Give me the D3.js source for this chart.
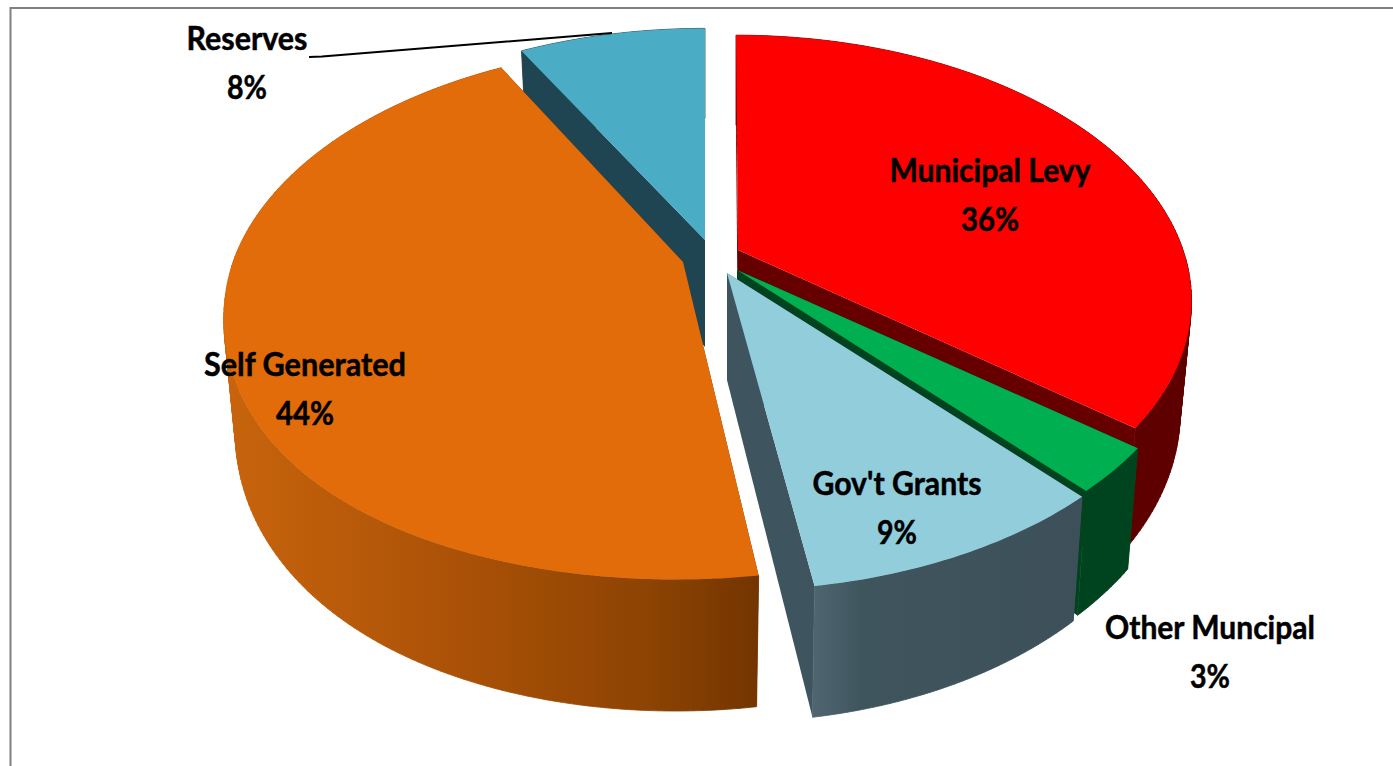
<!DOCTYPE html>
<html>
<head>
<meta charset="utf-8">
<script src="https://d3js.org/d3.v7.min.js"></script>
<style>
  html, body { margin: 0; background: #fff; overflow: hidden; }
  text { font-family: Lato, "Open Sans", sans-serif; font-weight: 700; fill: #000; stroke: #000; stroke-width: 0.5; text-anchor: middle; }
</style>
</head>
<body>
<svg id="chart" width="1393" height="766"></svg>
<script>
// values
const categories = ["Municipal Levy", "Other Muncipal", "Gov't Grants", "Self Generated", "Reserves"];
const shares = [35.6, 2.8, 9.2, 44.4, 8.0];
const percentLabels = ["36%", "3%", "9%", "44%", "8%"];

// look of each slice: top face, radial wall, outer wall gradient stops
const topColors = ["#ff0000", "#00b050", "#92cddc", "#e26b0a", "#4bacc6"];
const wallColors = ["#660000", "#00431e", "#3e5560", "#733500", "#204552"];
const outerStops = [
  [[0, "#5f0000"], [1, "#5f0000"]],
  [[0, "#00441f"], [1, "#00441f"]],
  [[0, "#4f6671"], [0.18, "#3f555e"], [1, "#3d5059"]],
  [[0, "#c8640d"], [0.5, "#a64f06"], [0.8, "#8c4303"], [1, "#733500"]],
  [[0, "#204552"], [1, "#204552"]]
];

// where the apex of each exploded slice lands on screen
const apexes = [[738, 250], [737, 270], [727, 273], [683, 262], [705, 240]];
// exploded slices sit at slightly different spots in the perspective
const fitX = [0.989, 1, 1.012, 1, 0.985];
const fitY = [1, 1, 1.012, 1.012, 0.985];
const skews = [2.4, 1, 3, -6, 0];
const bulges = [0, 0, 0, 20, 0];

// label centres and fitted text widths
const labelX = [990, 1210, 897, 305, 247];
const labelY = [182, 639, 495, 376, 50];
const nameWidths = [201, 210, 169, 202, 121];
const pctWidths = [58, 40, 40, 58, 40];

const radiusX = 450, radiusY = 255; // screen scale of the unit circle
const perspective = 0.187;          // near edge gets larger
const depth = 107;                  // pie thickness at unit scale
const bottomShrink = 0.975;         // bottom face sits further from camera

const svg = d3.select("#chart");
const defs = svg.append("defs");

const scaleX = d3.scaleLinear().domain([0, 1]).range([0, radiusX]);
const scaleY = d3.scaleLinear().domain([0, 1]).range([0, radiusY]);

// project a point of slice i, radius r and angle a clockwise from the top
function project(i, r, a, isBottom) {
  const px = r * Math.sin(a), py = -r * Math.cos(a);
  const s = 1 / (1 - perspective * py);
  const shrink = isBottom ? bottomShrink : 1;
  return [
    apexes[i][0] + (scaleX(px) * fitX[i] * shrink + skews[i] * py) * s,
    apexes[i][1] + scaleY(py) * fitY[i] * s + (isBottom ? depth * s : 0) + bulges[i] * px * px * Math.max(py, 0)
  ];
}

function arcPoints(i, a0, a1, isBottom) {
  const n = Math.max(8, Math.ceil((a1 - a0) * 60));
  return d3.range(n + 1).map(k => project(i, 1, a0 + (a1 - a0) * k / n, isBottom));
}

const line = d3.line();
const closed = pts => line(pts) + "Z";

// outer wall as quads with one winding, so that the fold at the silhouette stays filled
function wallPath(topArc, bottomArc) {
  return d3.pairs(d3.range(topArc.length)).map(([a, b]) => {
    const quad = [topArc[a], topArc[b], bottomArc[b], bottomArc[a]];
    return closed(d3.polygonArea(quad) < 0 ? quad.reverse() : quad);
  }).join("");
}

// frame line, only top and left are in the picture
svg.append("path")
  .attr("d", line([[10.5, 766], [10.5, 8], [1393, 8]]))
  .attr("fill", "none")
  .attr("stroke", "#808080")
  .attr("stroke-width", 2);

const arcs = d3.pie().sort(null).value(d => d)(shares);

// back slices first, so the front ones paint over them
const drawOrder = [4, 0, 1, 2, 3];

drawOrder.forEach(i => {
  const { startAngle: a0, endAngle: a1 } = arcs[i];
  const apex = apexes[i];
  const g = svg.append("g").attr("class", "slice");

  const topArc = arcPoints(i, a0, a1, false);
  const bottomArc = arcPoints(i, a0, a1, true);
  const apexBottom = project(i, 0, 0, true);

  // radial walls
  [[topArc[0], bottomArc[0]], [topArc[topArc.length - 1], bottomArc[bottomArc.length - 1]]].forEach(([t, b]) => {
    g.append("path")
      .attr("d", closed([apex, t, b, apexBottom]))
      .attr("fill", wallColors[i]);
  });

  // outer wall
  const xs = topArc.concat(bottomArc).map(p => p[0]);
  const grad = defs.append("linearGradient")
    .attr("id", "outer" + i)
    .attr("gradientUnits", "userSpaceOnUse")
    .attr("x1", d3.min(xs)).attr("x2", d3.max(xs))
    .attr("y1", 0).attr("y2", 0);
  outerStops[i].forEach(([o, c]) => grad.append("stop").attr("offset", o).attr("stop-color", c));
  g.append("path")
    .attr("d", wallPath(topArc, bottomArc))
    .attr("fill", `url(#outer${i})`)
    .attr("stroke", `url(#outer${i})`) // hides the seam against the radial wall
    .attr("stroke-width", 0.8);

  // top face
  g.append("path")
    .attr("d", closed([apex].concat(topArc)))
    .attr("fill", topColors[i]);
});

// leader line of the Reserves label
svg.append("path")
  .attr("d", line([[309, 57], [322, 56.5], [612, 33]]))
  .attr("fill", "none")
  .attr("stroke", "#000")
  .attr("stroke-width", 2);

categories.forEach((name, i) => {
  svg.append("text")
    .attr("x", labelX[i]).attr("y", labelY[i])
    .attr("font-size", 33)
    .attr("textLength", nameWidths[i]).attr("lengthAdjust", "spacingAndGlyphs")
    .text(name);
  svg.append("text")
    .attr("x", labelX[i]).attr("y", labelY[i] + 49)
    .attr("font-size", 33)
    .attr("textLength", pctWidths[i]).attr("lengthAdjust", "spacingAndGlyphs")
    .text(percentLabels[i]);
});
</script>
</body>
</html>
